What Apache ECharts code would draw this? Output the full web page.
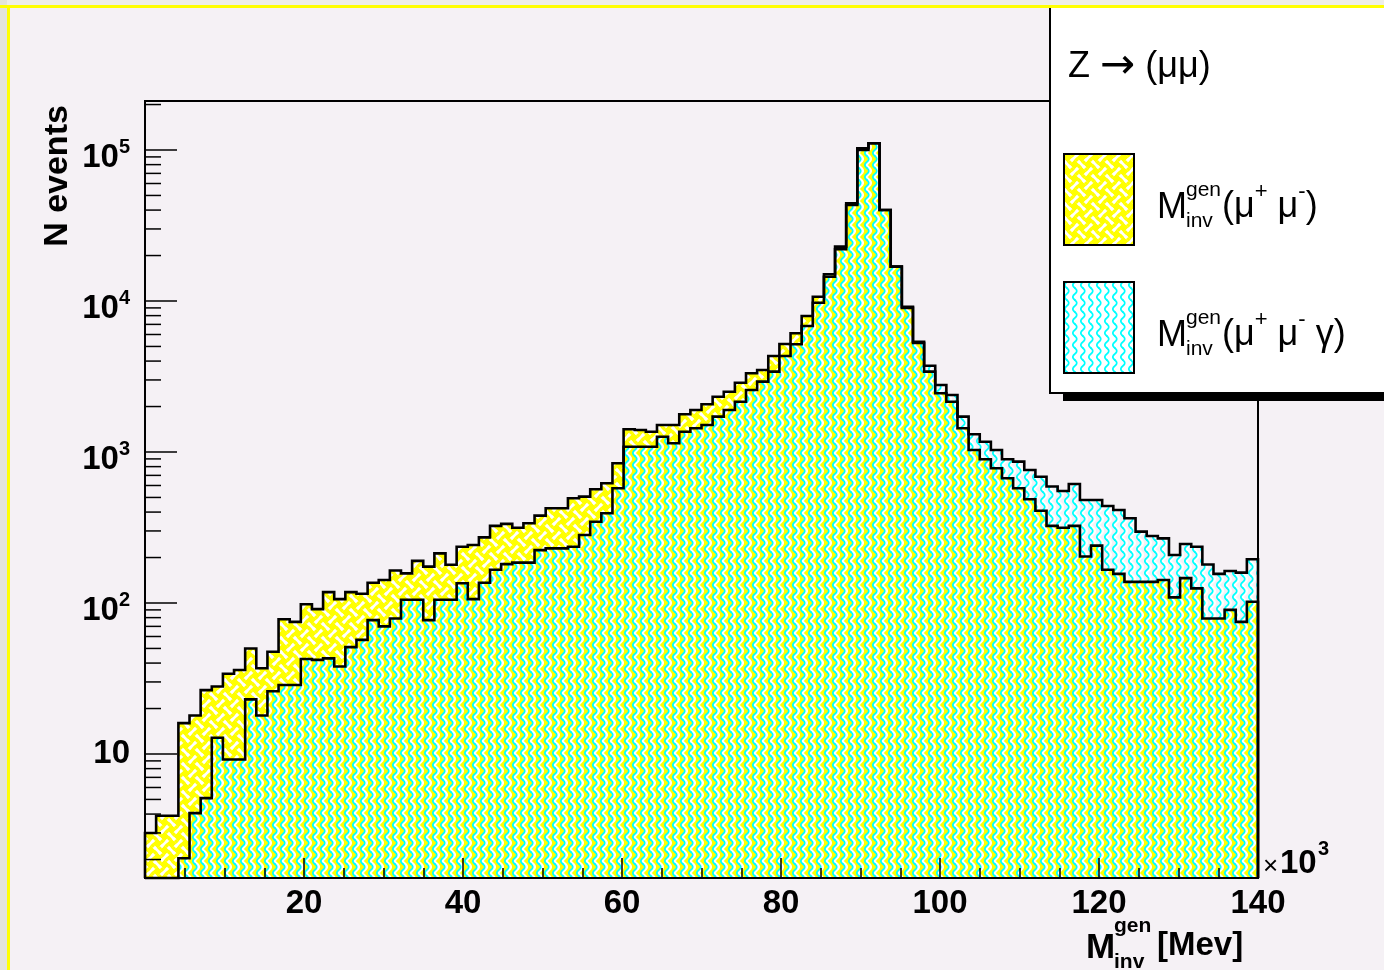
<!DOCTYPE html>
<html>
<head>
<meta charset="utf-8">
<script src="https://cdn.jsdelivr.net/npm/echarts@6.0.0/dist/echarts.min.js"></script>
<style>
html,body{margin:0;padding:0;background:#f5f1f5;}
#c{width:1384px;height:970px;}
</style>
</head>
<body>
<div id="c"></div>
<script>
// ---------------- data ----------------
const nBins = 100;
const xLow = 0, xHigh = 140;            // x10^3 MeV
const binWidth = (xHigh - xLow) / nBins;
const binEdges = Array.from({length: nBins + 1}, (_, i) => +(xLow + i * binWidth).toFixed(3));
const yLow = 1.509, yHigh = 211100;

// M_inv^gen(mu+ mu-)  (yellow)
const mumuCounts = [
  3.0, 3.9, 3.9, 16, 18, 26.5, 28, 34, 36, 50,
  37, 47.5, 78, 75, 98, 91, 118, 106, 118, 115,
  136, 142, 164, 157, 190, 174, 213, 179, 236, 242,
  272, 324, 334, 315, 337, 379, 424, 424, 494, 506,
  567, 621, 842, 1413, 1399, 1363, 1510, 1510, 1778, 1897,
  2069, 2324, 2508, 2877, 3320, 3491, 4322, 5190, 6110, 7955,
  10680, 15020, 22900, 44360, 102600, 110800, 40090, 16880, 9000, 5270,
  3405, 2450, 2153, 1435, 1030, 895, 780, 670, 575, 486,
  408, 324, 315, 324, 203, 240, 166, 156, 138, 138,
  138, 142, 109, 146, 125, 79, 79, 90, 75, 102
];
// M_inv^gen(mu+ mu- gamma)  (cyan)
const mumuGammaCounts = [
  0, 0, 0, 2.04, 4.06, 5.1, 12.8, 9.2, 9.2, 23,
  18, 26, 28.6, 28.6, 42.6, 42, 43, 38, 51, 57,
  77, 70, 79, 105, 105, 77, 105, 105, 135, 106,
  136, 166, 181, 185, 185, 224, 230, 230, 236, 282,
  345, 393, 575, 1084, 1084, 1084, 1263, 1142, 1363, 1435,
  1510, 1714, 1897, 2153, 2576, 2922, 3405, 4322, 5167, 6823,
  9744, 14480, 22000, 43250, 100000, 110800, 40090, 16880, 9163, 5370,
  3727, 2780, 2385, 1714, 1310, 1170, 1030, 895, 863, 760,
  686, 591, 552, 614, 481, 481, 439, 413, 364, 297,
  278, 268, 208, 246, 236, 180, 156, 163, 159, 195
];
const overlapCounts = mumuCounts.map((v, i) => Math.min(v, mumuGammaCounts[i]));

// minor log ticks 2..9 x 10^d
const yMinorTicks = [];
for (let d = 0; d <= 5; d++) for (let k = 2; k <= 9; k++) {
  const v = k * Math.pow(10, d);
  if (v > yLow && v < yHigh) yMinorTicks.push(v);
}

// ---------------- patterns ----------------
const FONT = 'Liberation Sans';
function makeTile(w, h, draw) {
  const c = document.createElement('canvas');
  c.width = w; c.height = h;
  draw(c.getContext('2d'), w, h);
  return c;
}
function wrap(g, w, h, fn) {
  for (const dx of [-w, 0, w]) for (const dy of [-h, 0, h]) {
    g.save(); g.translate(dx, dy); fn(); g.restore();
  }
}
function seg(g, x1, y1, x2, y2, col, lw) {
  g.strokeStyle = col; g.lineWidth = lw; g.beginPath(); g.moveTo(x1, y1); g.lineTo(x2, y2); g.stroke();
}
const T = 14, H = T / 2, Q = T / 4;
const basketTile = makeTile(T, T, (g, w, h) => {
  g.fillStyle = '#ffff00'; g.fillRect(0, 0, w, h);
  const lw = 2.6;
  wrap(g, w, h, () => {
    seg(g, -1, T + 1, T + 1, -1, '#ffffff', lw);
    seg(g, -H - 1, H + 1, H + 1, -H - 1, '#ffffff', lw);
    seg(g, -1, -H - 1, T + H + 1, T + 1, '#ffffff', lw);
    seg(g, -H - 1, -1, T + 1, T + H + 1, '#ffffff', lw);
  });
  wrap(g, w, h, () => {
    const c1x = 3 * Q, c1y = Q;
    seg(g, c1x - 3.4, c1y - 3.4, c1x + 3.4, c1y + 3.4, '#ffff00', 3.4);
    seg(g, c1x - 3, c1y + 3, c1x + 3, c1y - 3, '#ffffff', lw);
    const c2x = Q, c2y = 3 * Q;
    seg(g, c2x - 3.4, c2y + 3.4, c2x + 3.4, c2y - 3.4, '#ffff00', 3.4);
    seg(g, c2x - 3, c2y - 3, c2x + 3, c2y + 3, '#ffffff', lw);
  });
});
function wave(g, dx) {
  for (const oy of [-12, 0, 12]) {
    g.beginPath();
    g.moveTo(4 + dx, 0 + oy);
    g.quadraticCurveTo(8 + dx, 3 + oy, 4 + dx, 6 + oy);
    g.quadraticCurveTo(0 + dx, 9 + oy, 4 + dx, 12 + oy);
    g.stroke();
  }
}
function drawWaves(g, bg) {
  if (bg) { g.fillStyle = bg; g.fillRect(0, 0, 8, 12); }
  g.lineCap = 'round';
  g.strokeStyle = '#ffffff'; g.lineWidth = 3.0; wave(g, 0.6);
  g.strokeStyle = '#00ffff'; g.lineWidth = 1.7; wave(g, -1.2);
}
const waveTile = makeTile(8, 12, (g) => drawWaves(g, null));
const waveLegendTile = makeTile(8, 12, (g) => drawWaves(g, '#ffffff'));
const overlapTile = makeTile(8, 12, (g) => drawWaves(g, '#ffff00'));
const pat = (c) => ({image: c, repeat: 'repeat'});

// ---------------- series helpers ----------------
function stepPoints(api, vals) {
  const pts = [api.coord([binEdges[0], yLow])];
  for (let i = 0; i < vals.length; i++) {
    const v = Math.max(vals[i], yLow);
    pts.push(api.coord([binEdges[i], v]));
    pts.push(api.coord([binEdges[i + 1], v]));
  }
  pts.push(api.coord([binEdges[vals.length], yLow]));
  return pts;
}
function areaSeries(name, vals, fill, z) {
  return {
    type: 'custom', name, coordinateSystem: 'cartesian2d', silent: true, z,
    data: [[xLow, yLow]],
    renderItem: (p, api) => ({type: 'polygon', shape: {points: stepPoints(api, vals)}, style: {fill, stroke: null}})
  };
}
function outlineSeries(name, vals, z) {
  return {
    type: 'custom', name, coordinateSystem: 'cartesian2d', silent: true, z,
    data: [[xLow, yLow]],
    renderItem: (p, api) => ({type: 'polyline', shape: {points: stepPoints(api, vals)}, style: {fill: null, stroke: '#000', lineWidth: 2.6, lineJoin: 'miter'}})
  };
}

// ---------------- graphics ----------------
function txt(x, y, text, size, weight, extra) {
  return Object.assign({
    type: 'text', x, y, silent: true, z: 120,
    style: {text, fontFamily: FONT, fontSize: size, fontWeight: weight, fill: '#000', align: 'left', verticalAlign: 'middle'}
  }, extra || {});
}
const supRich = {
  a: {fontFamily: FONT, fontSize: 36, color: '#000', padding: [9, 0, 0, 0], verticalAlign: 'middle'},
  p: {fontFamily: FONT, fontSize: 22, color: '#000', verticalAlign: 'top'}
};
function richTxt(x, y, text) {
  return {type: 'text', x, y, silent: true, z: 120,
    style: {text, rich: supRich, fontFamily: FONT, fontSize: 36, fill: '#000', align: 'left', verticalAlign: 'middle'}};
}

const graphics = [
  // legend shadow + box
  {type: 'rect', silent: true, z: 100, shape: {x: 1063, y: 0, width: 330, height: 401}, style: {fill: '#000'}},
  {type: 'rect', silent: true, z: 101, shape: {x: 1050, y: -5, width: 400, height: 398}, style: {fill: '#ffffff', stroke: '#000', lineWidth: 2}},
  {type: 'rect', silent: true, z: 110, shape: {x: 1064, y: 154, width: 70, height: 91}, style: {fill: pat(basketTile), stroke: '#000', lineWidth: 2}},
  {type: 'rect', silent: true, z: 110, shape: {x: 1064, y: 282, width: 70, height: 91}, style: {fill: pat(waveLegendTile), stroke: '#000', lineWidth: 2}},
  {type: 'text', x: 1068, y: 67, silent: true, z: 120,
    style: {text: '{z|Z }{r|→}{z| (μμ)}', rich: {
      z: {fontFamily: FONT, fontSize: 36, color: '#000', verticalAlign: 'middle'},
      r: {fontFamily: 'DejaVu Sans', fontSize: 42, color: '#000', verticalAlign: 'middle'}
    }, align: 'left', verticalAlign: 'middle'}},
  txt(1157, 208, 'M', 36, 'normal'),
  txt(1186, 190, 'gen', 21, 'normal'),
  txt(1186, 221, 'inv', 21, 'normal'),
  richTxt(1222, 203, '{a|(μ}{p|+}{a| μ}{p|-}{a|)}'),
  txt(1157, 336, 'M', 36, 'normal'),
  txt(1186, 318, 'gen', 21, 'normal'),
  txt(1186, 349, 'inv', 21, 'normal'),
  richTxt(1222, 331, '{a|(μ}{p|+}{a| μ}{p|-}{a| γ)}'),
  // axis titles
  txt(57.5, 176, 'N events', 34, 'bold', {rotation: Math.PI / 2, style: {text: 'N events', fontFamily: FONT, fontSize: 34, fontWeight: 'bold', fill: '#000', align: 'center', verticalAlign: 'middle'}}),
  txt(1086, 948, 'M', 35, 'bold'),
  txt(1114, 926, 'gen', 21, 'bold'),
  txt(1114, 962, 'inv', 21, 'bold'),
  txt(1157, 946, '[Mev]', 33, 'bold'),
  txt(1263, 867, '×', 26, 'normal'),
  txt(1280, 864, '10', 33, 'bold'),
  txt(1318, 849, '3', 20, 'bold'),
  // outer page frame
  {type: 'rect', silent: true, z: 200, shape: {x: 0, y: 0, width: 1384, height: 5}, style: {fill: '#eeeee8'}},
  {type: 'rect', silent: true, z: 200, shape: {x: 0, y: 0, width: 7, height: 970}, style: {fill: '#e3e4da'}},
  {type: 'rect', silent: true, z: 201, shape: {x: 0, y: 5, width: 1384, height: 3}, style: {fill: '#ffff00'}},
  {type: 'rect', silent: true, z: 201, shape: {x: 7, y: 5, width: 3, height: 965}, style: {fill: '#ffff00'}}
];

// ---------------- chart ----------------
const chart = echarts.init(document.getElementById('c'), null, {renderer: 'canvas', width: 1384, height: 970});
const option = {
  backgroundColor: '#f5f1f5',
  animation: false,
  grid: {left: 145, top: 101, width: 1113, height: 777, show: true, borderColor: '#000', borderWidth: 2, backgroundColor: 'transparent'},
  xAxis: {
    type: 'value', min: xLow, max: xHigh, interval: 20, z: 50,
    axisLine: {show: true, lineStyle: {color: '#000', width: 2}},
    axisTick: {show: true, inside: true, length: 20, lineStyle: {color: '#000', width: 1.5}},
    minorTick: {show: true, splitNumber: 4, length: 10, lineStyle: {color: '#000', width: 1.5}},
    splitLine: {show: false}, minorSplitLine: {show: false},
    axisLabel: {margin: 9, color: '#000', fontFamily: FONT, fontWeight: 'bold', fontSize: 33,
      formatter: (v) => (v === 0 ? '' : String(v))}
  },
  yAxis: {
    type: 'log', logBase: 10, min: yLow, max: yHigh, z: 50,
    axisLine: {show: true, lineStyle: {color: '#000', width: 2}},
    axisTick: {show: true, inside: true, length: 32, lineStyle: {color: '#000', width: 1.5}},
    splitLine: {show: false},
    axisLabel: {
      margin: 15, color: '#000', padding: [12, 0, 0, 0], showMinLabel: false, showMaxLabel: false,
      formatter: (v) => {
        const e = Math.log10(v), r = Math.round(e);
        if (Math.abs(e - r) > 1e-6 || r < 1) return '';
        if (r === 1) return '{n|10}';
        return '{b|10}{s|' + r + '}';
      },
      rich: {
        b: {fontFamily: FONT, fontWeight: 'bold', fontSize: 33, color: '#000', padding: [4.5, 0, 0, 0], verticalAlign: 'middle'},
        s: {fontFamily: FONT, fontWeight: 'bold', fontSize: 20, color: '#000', verticalAlign: 'top'},
        n: {fontFamily: FONT, fontWeight: 'bold', fontSize: 33, color: '#000', padding: [0, 0, 12, 0], verticalAlign: 'middle'}
      }
    }
  },
  series: [
    areaSeries('mumugamma_fill', mumuGammaCounts, pat(waveTile), 2),
    areaSeries('mumu_fill', mumuCounts, pat(basketTile), 3),
    areaSeries('overlap_fill', overlapCounts, pat(overlapTile), 4),
    outlineSeries('mumu_line', mumuCounts, 6),
    outlineSeries('mumugamma_line', mumuGammaCounts, 6),
    {
      type: 'custom', name: 'yminor', coordinateSystem: 'cartesian2d', silent: true, z: 60,
      data: yMinorTicks.map((v) => [xLow, v]),
      renderItem: (p, api) => {
        const pt = api.coord([api.value(0), api.value(1)]);
        return {type: 'line', shape: {x1: pt[0], y1: pt[1], x2: pt[0] + 16, y2: pt[1]}, style: {stroke: '#000', lineWidth: 1.5}};
      }
    }
  ],
  graphic: {elements: graphics}
};
chart.setOption(option);
</script>
</body>
</html>
